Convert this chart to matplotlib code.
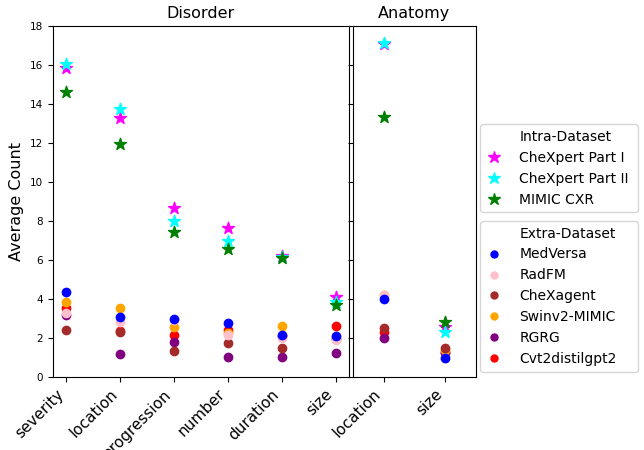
import numpy as np
import matplotlib.pyplot as plt
from matplotlib.lines import Line2D

disorder_cats = ["severity", "location", "progression", "number", "duration", "size"]
anatomy_cats = ["location", "size"]

# intra-dataset (stars)
intra_names = ["CheXpert Part I", "CheXpert Part II", "MIMIC CXR"]
intra_colors = ["magenta", "cyan", "green"]
intra_disorder = [
    [15.83, 13.28, 8.65, 7.66, 6.22, 4.12],
    [16.03, 13.73, 8.00, 6.99, 6.15, 3.86],
    [14.63, 11.93, 7.42, 6.56, 6.12, 3.71],
]
intra_anatomy = [
    [17.08, 2.58],
    [17.11, 2.32],
    [13.32, 2.84],
]

# extra-dataset (circles)
extra_names = ["MedVersa", "RadFM", "CheXagent", "Swinv2-MIMIC", "RGRG", "Cvt2distilgpt2"]
extra_colors = ["blue", "pink", "brown", "orange", "purple", "red"]
extra_disorder = [
    [4.36, 3.09, 2.95, 2.77, 2.14, 2.12],
    [3.27, 2.84, 2.93, 2.14, 1.98, 1.90],
    [2.43, 2.31, 1.33, 1.74, 1.49, 1.95],
    [3.85, 3.54, 2.56, 2.24, 2.62, 2.05],
    [3.16, 1.18, 1.78, 1.01, 1.01, 1.21],
    [3.54, 2.35, 2.17, 2.41, 2.10, 2.62],
]
extra_anatomy = [
    [3.98, 0.96],
    [4.19, 0.98],
    [2.50, 1.47],
    [4.21, 1.40],
    [1.98, 1.25],
    [2.29, 1.30],
]

fig = plt.figure(figsize=(6.44, 4.5), dpi=100)
ax1 = fig.add_axes([0.0823, 0.1622, 0.4596, 0.78])
ax2 = fig.add_axes([0.548, 0.1622, 0.191, 0.78], sharey=ax1)

x1 = np.arange(len(disorder_cats))
x2 = np.arange(len(anatomy_cats))

n = len(extra_names)
for i in range(n):
    z = 2 + (n - i) * 0.1
    ax1.scatter(x1, extra_disorder[i], color=extra_colors[i], s=36, zorder=z)
    ax2.scatter(x2, extra_anatomy[i], color=extra_colors[i], s=36, zorder=z)

for i in range(len(intra_names)):
    ax1.scatter(x1, intra_disorder[i], color=intra_colors[i], marker="*", s=80, zorder=4)
    ax2.scatter(x2, intra_anatomy[i], color=intra_colors[i], marker="*", s=80, zorder=4)

ax1.set_xlim(-0.25, 5.25)
ax2.set_xlim(-0.5, 1.5)
ax1.set_ylim(0, 18)
ax1.set_yticks(np.arange(0, 19, 2))
ax1.tick_params(axis="y", labelsize=7.5)
ax2.tick_params(axis="y", labelleft=False)

ax1.set_xticks(x1)
ax1.set_xticklabels(disorder_cats, rotation=45, ha="right", fontsize=11)
ax2.set_xticks(x2)
ax2.set_xticklabels(anatomy_cats, rotation=45, ha="right", fontsize=11)

ax1.set_title("Disorder", fontsize=11.5)
ax2.set_title("Anatomy", fontsize=11.5)
ax1.set_ylabel("Average Count", fontsize=11.5)

# legends: header row has an empty handle
blank = Line2D([], [], linestyle="none")
intra_handles = [blank] + [Line2D([], [], linestyle="none", marker="*", markersize=9, color=c)
                           for c in intra_colors]
extra_handles = [blank] + [Line2D([], [], linestyle="none", marker="o", markersize=5, color=c)
                           for c in extra_colors]

fig.legend(handles=intra_handles, labels=["Intra-Dataset"] + intra_names, loc="upper left",
           bbox_to_anchor=(0.745, 0.724, 0.245, 0), mode="expand", fontsize=10,
           borderaxespad=0, handlelength=1.2, handletextpad=1.25)
fig.legend(handles=extra_handles, labels=["Extra-Dataset"] + extra_names, loc="upper left",
           bbox_to_anchor=(0.745, 0.509, 0.245, 0), mode="expand", fontsize=10,
           borderaxespad=0, handlelength=1.2, handletextpad=1.25)

plt.savefig("out.png", dpi=100)
